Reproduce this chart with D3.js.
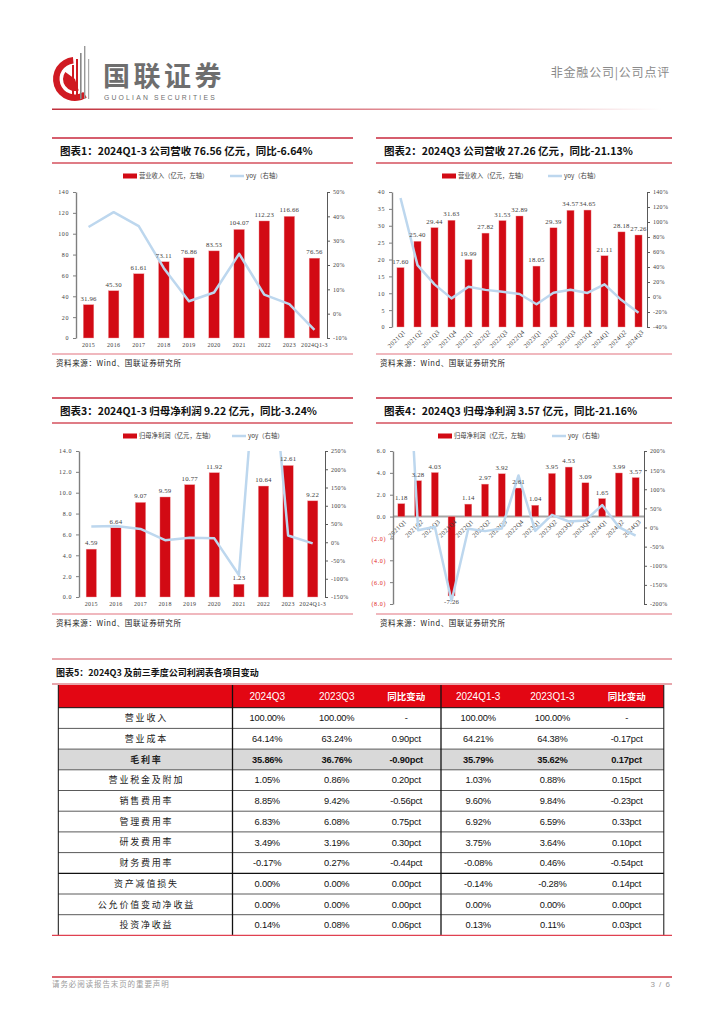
<!DOCTYPE html>
<html><head><meta charset="utf-8">
<script src="https://cdn.jsdelivr.net/npm/d3@7"></script>
<style>body{margin:0;background:#fff}svg{display:block}</style>
</head><body><svg id="page" width="724" height="1024"></svg>
<script>
// ---------------- DATA ----------------
const annualYears = ["2015","2016","2017","2018","2019","2020","2021","2022","2023","2024Q1-3"];
const annualRevenue = [31.96,45.30,61.61,73.11,76.86,83.53,104.07,112.23,116.66,76.56];
const annualRevenueYoy = [35.6,41.7,36.0,18.7,5.1,8.7,24.6,7.8,3.9,-6.64];

const quarters = ["2021Q1","2021Q2","2021Q3","2021Q4","2022Q1","2022Q2","2022Q3","2022Q4","2023Q1","2023Q2","2023Q3","2023Q4","2024Q1","2024Q2","2024Q3"];
const quarterRevenue = [17.60,25.40,29.44,31.63,19.99,27.82,31.53,32.89,18.05,29.39,34.57,34.65,21.11,28.18,27.26];
const quarterRevenueYoy = [132,42.5,16.8,-1.8,13.6,9.5,7.1,4.0,-9.7,5.6,9.6,5.4,16.9,-4.1,-21.13];

const annualProfit = [4.59,6.64,9.07,9.59,10.77,11.92,1.23,10.64,12.61,9.22];
const annualProfitYoy = [43.0,44.7,36.6,5.7,12.3,10.7,-89.7,765,18.5,-3.24];

const quarterProfit = [1.18,3.28,4.03,-7.26,1.14,2.97,3.92,2.61,1.04,3.95,4.53,3.09,1.65,3.99,3.57];
const quarterProfitYoy = [800,-7,2,-192,-3.4,-9.5,-2.7,136,-8.8,33,15.6,18.4,58.7,1.0,-21.16];

const revTicks = [0,20,40,60,80,100,120,140];
const revYoyTicks = [-10,0,10,20,30,40,50];
const qRevTicks = [0,5,10,15,20,25,30,35,40];
const qRevYoyTicks = [-40,-20,0,20,40,60,80,100,120,140];
const profTicks = [0,2,4,6,8,10,12,14];
const profYoyTicks = [-150,-100,-50,0,50,100,150,200,250];
const qProfTicks = [-8,-6,-4,-2,0,2,4,6];
const qProfYoyTicks = [-200,-150,-100,-50,0,50,100,150,200];

const tableHeaders = ["2024Q3","2023Q3","同比变动","2024Q1-3","2023Q1-3","同比变动"];
const tableRowNames = ["营业收入","营业成本","毛利率","营业税金及附加","销售费用率","管理费用率","研发费用率","财务费用率","资产减值损失","公允价值变动净收益","投资净收益"];
const tableValues = [
  ["100.00%","100.00%","-","100.00%","100.00%","-"],
  ["64.14%","63.24%","0.90pct","64.21%","64.38%","-0.17pct"],
  ["35.86%","36.76%","-0.90pct","35.79%","35.62%","0.17pct"],
  ["1.05%","0.86%","0.20pct","1.03%","0.88%","0.15pct"],
  ["8.85%","9.42%","-0.56pct","9.60%","9.84%","-0.23pct"],
  ["6.83%","6.08%","0.75pct","6.92%","6.59%","0.33pct"],
  ["3.49%","3.19%","0.30pct","3.75%","3.64%","0.10pct"],
  ["-0.17%","0.27%","-0.44pct","-0.08%","0.46%","-0.54pct"],
  ["0.00%","0.00%","0.00pct","-0.14%","-0.28%","0.14pct"],
  ["0.00%","0.00%","0.00pct","0.00%","0.00%","0.00pct"],
  ["0.14%","0.08%","0.06pct","0.13%","0.11%","0.03pct"]
];

// ---------------- STYLE ----------------
const RED = "#D20A14", BLUE = "#BDD7EE";
const CJK = "'Noto Sans CJK SC', sans-serif";
const SERIF = "'Liberation Serif','DejaVu Serif',serif";
const SANS = "'Liberation Sans', Arial, sans-serif";

const svg = d3.select("#page");

// ---------------- HEADER ----------------
const defs = svg.append("defs");
const hg = defs.append("linearGradient").attr("id","hdrLine");
hg.append("stop").attr("offset","0%").attr("stop-color","#C0303C");
hg.append("stop").attr("offset","55%").attr("stop-color","#E08A92");
hg.append("stop").attr("offset","100%").attr("stop-color","#ffffff");

const logo = svg.append("g").attr("transform","translate(75,79)");
logo.append("path").attr("d", d3.arc()({innerRadius:15.5,outerRadius:22,startAngle:Math.PI*0.82,endAngle:Math.PI*1.97})).attr("fill","#D01A22");
logo.append("path").attr("d", d3.arc()({innerRadius:0,outerRadius:12,startAngle:Math.PI*0.9,endAngle:Math.PI*1.7})).attr("fill","#D01A22");
[[-3,-14,"#D01A22",2],[1,-20,"#D01A22",2],[5,-26,"#888",1.6],[9,-33,"#999",1.4],[13,-20,"#aaa",1.2]].forEach(b=>{
  logo.append("rect").attr("x",b[0]).attr("y",b[1]).attr("width",b[3]).attr("height",22-b[1]-2).attr("fill",b[2]);
});
svg.append("text").attr("x",103).attr("y",86).attr("font-family",CJK).attr("font-weight",700)
  .attr("font-size",27).attr("letter-spacing",3.5).attr("fill","#6e6e6e").text("国联证券");
svg.append("text").attr("x",104).attr("y",99.5).attr("font-family",SANS)
  .attr("font-size",6.8).attr("letter-spacing",2.2).attr("fill","#6e6e6e").text("GUOLIAN SECURITIES");
svg.append("text").attr("x",670).attr("y",77).attr("text-anchor","end").attr("font-family",CJK)
  .attr("font-size",12).attr("letter-spacing",0.8).attr("fill","#8a8a8a").text("非金融公司|公司点评");
svg.append("rect").attr("x",52).attr("y",108.5).attr("width",610).attr("height",1.5).attr("fill","url(#hdrLine)");

// ---------------- FOOTER ----------------
svg.append("line").attr("x1",52).attr("x2",672).attr("y1",977).attr("y2",977).attr("stroke","#D0303E").attr("stroke-width",1.5);
svg.append("text").attr("x",52).attr("y",987).attr("font-family",CJK).attr("font-size",7.5).attr("letter-spacing",0.9)
  .attr("fill","#9a9a9a").text("请务必阅读报告末页的重要声明");
svg.append("text").attr("x",671).attr("y",987).attr("text-anchor","end").attr("font-family",SANS).attr("font-size",8)
  .attr("letter-spacing",1).attr("fill","#9a9a9a").text("3 / 6");

// ---------------- CHARTS ----------------
let clipId = 0;
function drawChart(o) {
  const g = svg.append("g");
  g.append("line").attr("x1",o.x0).attr("x2",o.x1).attr("y1",o.top).attr("y2",o.top).attr("stroke","#C8283C").attr("stroke-width",1.3);
  g.append("text").attr("x",o.x0+8).attr("y",o.top+17).attr("font-family",CJK).attr("font-weight",700)
    .attr("font-size",10.5).attr("fill","#111").text(o.title);
  g.append("line").attr("x1",o.x0).attr("x2",o.x1).attr("y1",o.top+25).attr("y2",o.top+25).attr("stroke","#D4505E").attr("stroke-width",1.3);
  g.append("line").attr("x1",o.x0).attr("x2",o.x1).attr("y1",o.bottomLine).attr("y2",o.bottomLine).attr("stroke","#EBA0A8").attr("stroke-width",1.3);
  g.append("text").attr("x",o.x0+4).attr("y",o.bottomLine+12).attr("font-family",CJK).attr("font-size",7.5)
    .attr("letter-spacing",0.6).attr("fill","#222").text("资料来源：Wind、国联证券研究所");

  const ly = o.top+38;
  g.append("rect").attr("x",o.legBar).attr("y",ly-2.5).attr("width",14).attr("height",5).attr("fill",RED);
  g.append("text").attr("x",o.legBar+16).attr("y",ly+2.3).attr("font-family",CJK).attr("font-size",6.3).attr("fill","#404040").text(o.barName);
  g.append("line").attr("x1",o.legLine).attr("x2",o.legLine+14).attr("y1",ly).attr("y2",ly).attr("stroke",BLUE).attr("stroke-width",2.5);
  g.append("text").attr("x",o.legLine+16).attr("y",ly+2.3).attr("font-family",CJK).attr("font-size",6.3).attr("fill","#404040").text("yoy（右轴）");

  const x = d3.scaleBand().domain(o.cats).range([o.l,o.r]).paddingInner(0.58).paddingOuter(0.29);
  const y = d3.scaleLinear().domain(o.yDom).range([o.b,o.t]);
  const y2 = d3.scaleLinear().domain(o.y2Dom).range([o.b,o.t]);

  if (o.zeroLine) {
    g.append("line").attr("x1",o.l).attr("x2",o.r).attr("y1",y(0)).attr("y2",y(0)).attr("stroke","#a6a6a6").attr("stroke-width",2);
  }

  g.append("g").selectAll("rect").data(o.bars).join("rect")
    .attr("x",(d,i)=>x(o.cats[i])).attr("width",x.bandwidth())
    .attr("y",d=>y(Math.max(0,d))).attr("height",d=>Math.abs(y(d)-y(0)))
    .attr("fill",RED).attr("stroke","#F0A0A4").attr("stroke-width",0.4);

  const xl = g.append("g").attr("font-family",SERIF).attr("font-size",o.rotate?6.4:6).attr("fill","#404040").attr("letter-spacing",0.3);
  o.cats.forEach((c,i)=>{
    const cx = x(c)+x.bandwidth()/2;
    if (o.rotate) {
      const by = o.zeroLine ? y(0)+4 : o.b+4;
      xl.append("text").attr("transform",`translate(${cx+4},${by}) rotate(-45)`).attr("text-anchor","end").attr("dy","0.35em").text(c);
    } else {
      xl.append("text").attr("x",cx).attr("y",o.b+9).attr("text-anchor","middle").text(c);
    }
  });

  const cid = "clip"+(clipId++);
  defs.append("clipPath").attr("id",cid).append("rect").attr("x",o.l).attr("y",o.t).attr("width",o.r-o.l).attr("height",o.b-o.t);
  const line = d3.line().x((d,i)=>x(o.cats[i])+x.bandwidth()/2).y(d=>y2(d));
  g.append("path").attr("clip-path",`url(#${cid})`).attr("d",line(o.yoy)).attr("fill","none")
    .attr("stroke",BLUE).attr("stroke-width",2.5).attr("stroke-linejoin","round");

  g.append("g").attr("font-family",SERIF).attr("font-size",6.8).attr("fill","#404040").attr("letter-spacing",0.2)
    .selectAll("text").data(o.bars).join("text")
    .attr("x",(d,i)=>x(o.cats[i])+x.bandwidth()/2)
    .attr("y",d=> d>=0 ? y(d)-4 : y(d)+8)
    .attr("text-anchor","middle").text(d=>d.toFixed(2));

  const ax = g.append("g").attr("transform",`translate(${o.l},0)`)
    .call(d3.axisLeft(y).tickValues(o.yTicks).tickSize(3).tickSizeOuter(0).tickFormat(o.yFmt));
  ax.select(".domain").attr("stroke","#7f7f7f").attr("stroke-width",1.4);
  ax.selectAll(".tick line").attr("stroke","#7f7f7f");
  ax.selectAll("text").attr("font-family",SERIF).attr("font-size",6).attr("letter-spacing",0.6)
    .attr("fill",d=> d<0 && o.redNeg ? "#E02020" : "#404040").attr("dx",-1);
  const ax2 = g.append("g").attr("transform",`translate(${o.r},0)`)
    .call(d3.axisRight(y2).tickValues(o.y2Ticks).tickSize(3).tickSizeOuter(0).tickFormat(d=>d+"%"));
  ax2.select(".domain").attr("stroke","#595959").attr("stroke-width",1);
  ax2.selectAll(".tick line").attr("stroke","#595959");
  ax2.selectAll("text").attr("font-family",SERIF).attr("font-size",6).attr("letter-spacing",0.3).attr("fill","#404040");
}

drawChart({x0:52,x1:353,top:138,bottomLine:354,l:76,r:327,t:192,b:338,
  title:"图表1：2024Q1-3 公司营收 76.56 亿元，同比-6.64%",
  legBar:123,legLine:230,barName:"营业收入（亿元，左轴）",
  cats:annualYears,bars:annualRevenue,yoy:annualRevenueYoy,
  yDom:[0,140],yTicks:revTicks,yFmt:d3.format("d"),y2Dom:[-10,50],y2Ticks:revYoyTicks});

drawChart({x0:376,x1:672,top:138,bottomLine:354,l:392,r:647,t:192,b:327,rotate:true,
  title:"图表2：2024Q3 公司营收 27.26 亿元，同比-21.13%",
  legBar:442,legLine:548,barName:"营业收入（亿元，左轴）",
  cats:quarters,bars:quarterRevenue,yoy:quarterRevenueYoy,
  yDom:[0,40],yTicks:qRevTicks,yFmt:d3.format("d"),y2Dom:[-40,140],y2Ticks:qRevYoyTicks});

drawChart({x0:52,x1:353,top:398,bottomLine:614,l:79,r:325,t:451,b:597,
  title:"图表3：2024Q1-3 归母净利润 9.22 亿元，同比-3.24%",
  legBar:123,legLine:232,barName:"归母净利润（亿元，左轴）",
  cats:annualYears,bars:annualProfit,yoy:annualProfitYoy,
  yDom:[0,14],yTicks:profTicks,yFmt:d3.format(".1f"),y2Dom:[-150,250],y2Ticks:profYoyTicks});

drawChart({x0:376,x1:672,top:398,bottomLine:614,l:393,r:644,t:451,b:604,rotate:true,zeroLine:true,redNeg:true,
  title:"图表4：2024Q3 归母净利润 3.57 亿元，同比-21.16%",
  legBar:438,legLine:552,barName:"归母净利润（亿元，左轴）",
  cats:quarters,bars:quarterProfit,yoy:quarterProfitYoy,
  yDom:[-8,6],yTicks:qProfTicks,yFmt:d=> d<0 ? "("+(-d).toFixed(1)+")" : d.toFixed(1),
  y2Dom:[-200,200],y2Ticks:qProfYoyTicks});

// ---------------- TABLE ----------------
const tg = svg.append("g");
tg.append("line").attr("x1",52).attr("x2",672).attr("y1",659).attr("y2",659).attr("stroke","#E08890").attr("stroke-width",1.3);
tg.append("text").attr("x",56).attr("y",676).attr("font-family",CJK).attr("font-weight",700).attr("font-size",9)
  .attr("fill","#111").text("图表5：2024Q3 及前三季度公司利润表各项目变动");
tg.append("line").attr("x1",52).attr("x2",672).attr("y1",684).attr("y2",684).attr("stroke","#E08890").attr("stroke-width",1.3);

const colX = [58.3,232.5,302,371.5,441,515.3,589.5,663.8];
const hdrTop = 685, hdrH = 22.7, rowH = 20.7;
const rowTop = hdrTop + hdrH;
tg.append("rect").attr("x",colX[0]).attr("y",hdrTop).attr("width",colX[7]-colX[0]).attr("height",hdrH).attr("fill","#E30613");
tableHeaders.forEach((h,i)=>{
  const cx = (colX[i+1]+colX[i+2])/2;
  const isCJK = /[\u4e00-\u9fff]/.test(h);
  tg.append("text").attr("x",cx).attr("y",hdrTop+hdrH/2).attr("dy","0.36em").attr("text-anchor","middle")
    .attr("font-family",isCJK?CJK:SANS).attr("font-weight",isCJK?700:400).attr("font-size",isCJK?9.5:10)
    .attr("fill","#fff").text(h);
});
tableRowNames.forEach((name,r)=>{
  const yTop = rowTop + r*rowH, cy = yTop + rowH/2;
  const bold = name === "毛利率";
  if (bold) tg.append("rect").attr("x",colX[0]).attr("y",yTop).attr("width",colX[7]-colX[0]).attr("height",rowH).attr("fill","#D9D9D9");
  tg.append("text").attr("x",(colX[0]+colX[1])/2+1).attr("y",cy).attr("dy","0.36em").attr("text-anchor","middle")
    .attr("font-family",CJK).attr("font-weight",bold?700:400).attr("font-size",9).attr("letter-spacing",1.8)
    .attr("fill","#222").text(name);
  tableValues[r].forEach((v,c)=>{
    tg.append("text").attr("x",(colX[c+1]+colX[c+2])/2).attr("y",cy).attr("dy","0.36em").attr("text-anchor","middle")
      .attr("font-family",SANS).attr("font-weight",bold?700:400).attr("font-size",9.3).attr("letter-spacing",-0.2)
      .attr("fill","#111").text(v);
  });
  if (r>0) tg.append("line").attr("x1",colX[0]).attr("x2",colX[7]).attr("y1",yTop).attr("y2",yTop)
    .attr("stroke", r===8 ? "#111" : "#5a5a5a").attr("stroke-width", r===8 ? 1.2 : 1);
});
const tBottom = rowTop + tableRowNames.length*rowH;
[0,1,4,7].forEach(i=>{
  tg.append("line").attr("x1",colX[i]).attr("x2",colX[i]).attr("y1",hdrTop).attr("y2",tBottom)
    .attr("stroke","#111").attr("stroke-width", i===4||i===1 ? 1.3 : 1);
});
tg.append("line").attr("x1",colX[0]).attr("x2",colX[7]).attr("y1",rowTop).attr("y2",rowTop).attr("stroke","#111").attr("stroke-width",1);
tg.append("line").attr("x1",52).attr("x2",672).attr("y1",tBottom).attr("y2",tBottom).attr("stroke","#E04050").attr("stroke-width",1.2);
</script></body></html>
